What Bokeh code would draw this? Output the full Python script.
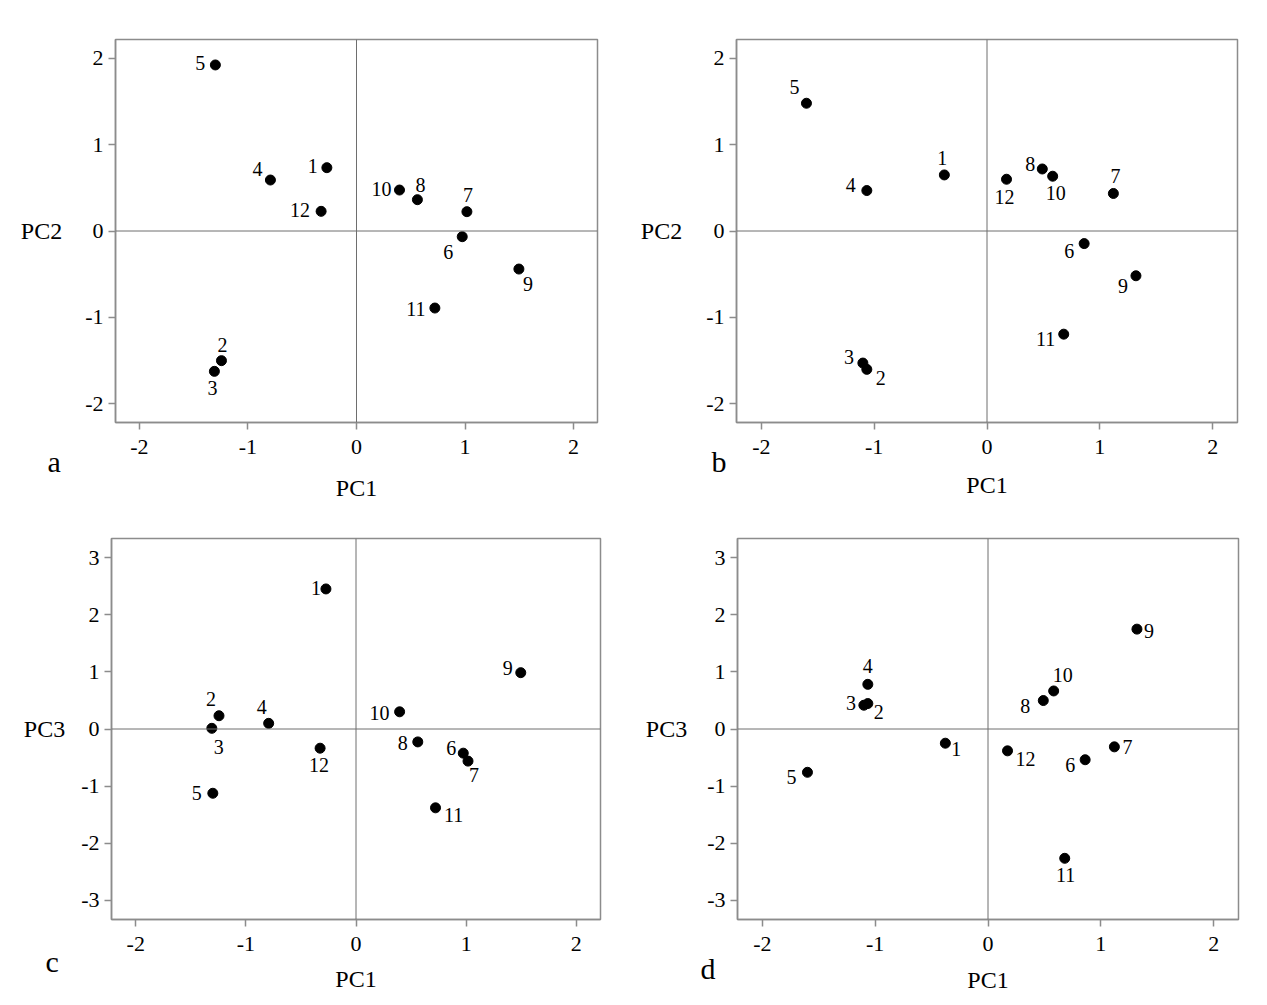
from bokeh.plotting import figure
from bokeh.models import (Range1d, FixedTicker, Span, Title, ColumnDataSource,
                          CustomJSTickFormatter)
from bokeh.layouts import column, row
from bokeh.embed import file_html
from bokeh.resources import INLINE
from bokeh.core.properties import value

# ---------------- data ----------------
samples = [str(i) for i in range(1, 13)]

# analysis 1 (panels a and c)
pc1_ac = [-0.273, -1.244, -1.309, -0.793, -1.300, 0.974, 1.017, 0.561, 1.496, 0.396, 0.722, -0.326]
pc2_a = [0.734, -1.503, -1.627, 0.591, 1.925, -0.066, 0.224, 0.363, -0.441, 0.475, -0.893, 0.228]
pc3_c = [2.452, 0.232, 0.012, 0.099, -1.125, -0.423, -0.562, -0.226, 0.986, 0.301, -1.380, -0.336]

# analysis 2 (panels b and d)
pc1_bd = [-0.378, -1.065, -1.100, -1.065, -1.600, 0.861, 1.120, 0.490, 1.320, 0.582, 0.680, 0.173]
pc2_b = [0.650, -1.604, -1.531, 0.469, 1.481, -0.146, 0.435, 0.719, -0.519, 0.635, -1.196, 0.600]
pc3_d = [-0.249, 0.446, 0.417, 0.783, -0.759, -0.539, -0.313, 0.499, 1.751, 0.667, -2.267, -0.383]

x_ticks = [-2, -1, 0, 1, 2]
y_ticks_pc2 = [-2, -1, 0, 1, 2]
y_ticks_pc3 = [-3, -2, -1, 0, 1, 2, 3]

# ---------------- label placement (pixel offsets, style only) ----------------
off_a = [(-14, -2), (1, -16), (-2, 17), (-13, -11), (-15, -2), (-14, 15),
         (1, -17), (3, -15), (9, 15), (-18, -1), (-19, 1), (-21, -1)]
off_b = [(-2, -17), (14, 9), (-14, -6), (-16, -6), (-12, -16), (-15, 7),
         (2, -17), (-12, -5), (-13, 10), (3, 17), (-18, 5), (-2, 18)]
off_c = [(-10, -1), (-8, -17), (7, 19), (-7, -16), (-16, 0), (-12, -5),
         (6, 14), (-15, 1), (-13, -5), (-20, 1), (18, 7), (-1, 17)]
off_d = [(11, 6), (11, 8), (-13, -2), (0, -18), (-16, 5), (-15, 5),
         (13, 0), (-18, 5), (12, 2), (9, -16), (1, 17), (18, 8)]

FONT = "Liberation Serif"
FRAME = "#8c8c8c"
ZERO = "#6e6e6e"
XR = 2.22

hyphen_fmt = "return tick.toString();"


def make_panel(xs, ys, offs, ylabel, yr, yticks, width, height, borders,
               ylab_standoff, xlab_standoff, letter, letter_offset, letter_standoff):
    l, r, t, b = borders
    p = figure(width=width, height=height,
               x_range=Range1d(-XR, XR), y_range=Range1d(-yr, yr),
               output_backend="svg", toolbar_location=None, tools="",
               min_border_left=l, min_border_right=r,
               min_border_top=t, min_border_bottom=b)
    p.grid.visible = False
    p.background_fill_color = "white"
    p.border_fill_color = "white"
    p.outline_line_color = FRAME
    p.outline_line_width = 1.5
    for ax in (p.xaxis[0], p.yaxis[0]):
        ax.axis_line_color = FRAME
        ax.axis_line_width = 1.5
        ax.major_tick_line_color = FRAME
        ax.major_tick_line_width = 1.5
        ax.major_tick_out = 7
        ax.major_tick_in = 0
        ax.minor_tick_line_color = None
        ax.major_label_text_font = FONT
        ax.major_label_text_font_size = "22px"
        ax.major_label_text_color = "black"
        ax.axis_label_text_font = FONT
        ax.axis_label_text_font_size = "24px"
        ax.axis_label_text_font_style = "normal"
        ax.axis_label_text_color = "black"
        ax.formatter = CustomJSTickFormatter(code=hyphen_fmt)
    p.xaxis.major_label_standoff = 10
    p.yaxis.major_label_standoff = 5
    p.xaxis.ticker = FixedTicker(ticks=x_ticks)
    p.yaxis.ticker = FixedTicker(ticks=yticks)
    p.xaxis.axis_label = "PC1"
    p.xaxis.axis_label_standoff = xlab_standoff
    p.yaxis.axis_label = ylabel
    p.yaxis.axis_label_orientation = "horizontal"
    p.yaxis.axis_label_standoff = ylab_standoff

    p.add_layout(Span(location=0, dimension="width", line_color=ZERO, line_width=1))
    p.add_layout(Span(location=0, dimension="height", line_color=ZERO, line_width=1))

    src = ColumnDataSource(dict(
        x=xs, y=ys, name=samples,
        dx=[o[0] for o in offs], dy=[o[1] for o in offs],
    ))
    p.scatter("x", "y", source=src, marker="circle", size=10,
              fill_color="black", line_color="black")
    p.text("x", "y", text="name", source=src, x_offset="dx", y_offset="dy",
           text_font=value(FONT), text_font_size="20px", text_color="black",
           text_align="center", text_baseline="middle")

    # panel letter (a, b, c, d) at the lower left, next to the x axis
    p.add_layout(Title(text=letter, align="left", vertical_align="top",
                       offset=letter_offset, standoff=letter_standoff,
                       text_font=FONT, text_font_size="30px",
                       text_font_style="normal", text_color="black"), "below")
    return p


pa = make_panel(pc1_ac, pc2_a, off_a, "PC2", 2.22, y_ticks_pc2, 628, 503,
                (115, 31, 39, 81), 20, 18, "a", -68, -117)
pb = make_panel(pc1_bd, pc2_b, off_b, "PC2", 2.22, y_ticks_pc2, 632, 503,
                (108, 23, 37, 80), 21, 15, "b", -25, -111)
pc = make_panel(pc1_ac, pc3_c, off_c, "PC3", 3.335, y_ticks_pc3, 628, 497,
                (111, 28, 35, 78), 13, 12, "c", -66, -99)
pd = make_panel(pc1_bd, pc3_d, off_d, "PC3", 3.34, y_ticks_pc3, 632, 497,
                (109, 22, 32, 81), 17, 13, "d", -37, -87)

layout = column(row(pa, pb), row(pc, pd))

open("out.html", "w").write(file_html(layout, INLINE))
